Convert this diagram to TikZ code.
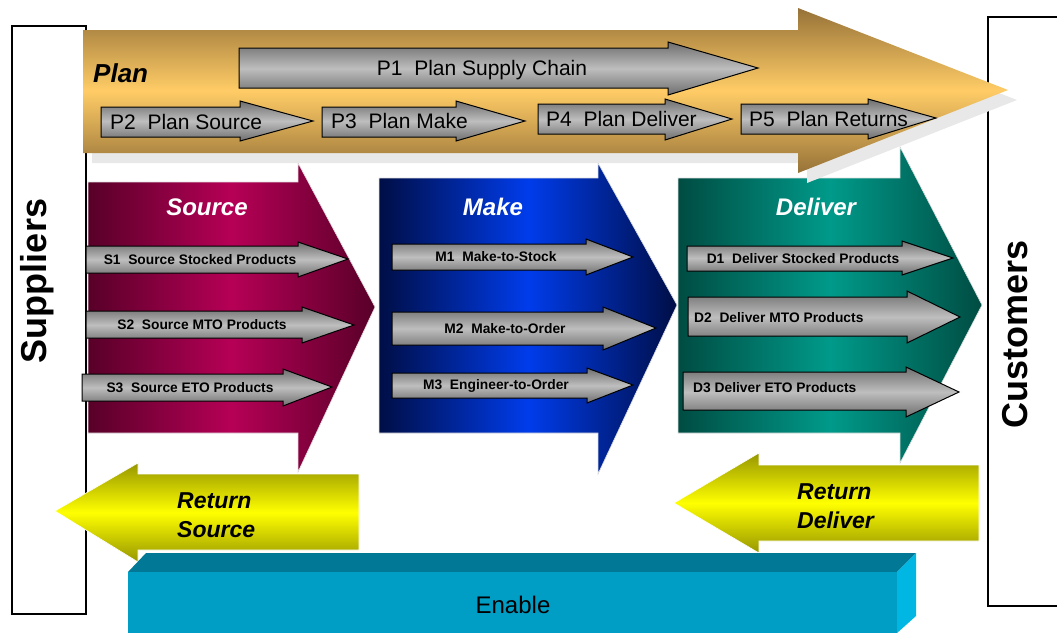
\documentclass[tikz,border=0pt]{standalone}
\usepackage{fontspec}
\setmainfont{Liberation Sans}
\definecolor{planDark}{RGB}{150,114,56}
\definecolor{planLight}{RGB}{255,204,102}
\definecolor{planShadow}{RGB}{232,232,232}
\definecolor{srcDark}{RGB}{88,0,40}
\definecolor{srcLight}{RGB}{182,0,86}
\definecolor{makeDark}{RGB}{0,14,70}
\definecolor{makeLight}{RGB}{0,60,235}
\definecolor{dlvDark}{RGB}{0,76,66}
\definecolor{dlvLight}{RGB}{0,154,138}
\definecolor{retDark}{RGB}{150,150,0}
\definecolor{retLight}{RGB}{255,255,0}
\definecolor{subDark}{RGB}{110,110,110}
\definecolor{subLight}{RGB}{190,190,190}
\definecolor{enFront}{RGB}{0,157,197}
\definecolor{enTop}{RGB}{0,120,150}
\definecolor{enSide}{RGB}{0,182,226}
\tikzstyle{partnerbox} = [draw=black,line width=1.3pt,fill=white]
\tikzstyle{partner} = [rotate=90,font=\fontsize{36}{40}\selectfont\bfseries]
\tikzstyle{planarrow} = [top color=planDark,bottom color=planDark,middle color=planLight]
\tikzstyle{srcblock} = [left color=srcDark,right color=srcDark,middle color=srcLight,draw=gray!25,line width=0.6pt]
\tikzstyle{makeblock} = [left color=makeDark,right color=makeDark,middle color=makeLight,draw=gray!25,line width=0.6pt]
\tikzstyle{dlvblock} = [left color=dlvDark,right color=dlvDark,middle color=dlvLight,draw=gray!25,line width=0.6pt]
\tikzstyle{subarrow} = [draw=black,line width=1pt,top color=subDark,bottom color=subDark,middle color=subLight]
\tikzstyle{retarrow} = [top color=retDark,bottom color=retDark,middle color=retLight,draw=white,line width=0.6pt]
\tikzstyle{title} = [font=\fontsize{24}{28}\selectfont\bfseries\itshape,text=white,inner sep=0pt]
\tikzstyle{plabel} = [font=\fontsize{21}{24}\selectfont,inner sep=0pt]
\tikzstyle{sublabel} = [font=\fontsize{13.8}{16}\selectfont\bfseries,inner sep=0pt]
\tikzstyle{retlabel} = [font=\fontsize{23}{29}\selectfont\bfseries\itshape,align=left,inner sep=0pt]

\begin{document}
\begin{tikzpicture}[x=1pt,y=-1pt]
    \useasboundingbox (0,0) rectangle (1057,633);

    % Partners
    \draw[partnerbox] (12,26) rectangle (86,614);
    \draw[line width=1.3pt] (1058,17) -- (988,17) -- (988,606) -- (1058,606);

    % Process blocks
    \path[srcblock] (88,182) -- (298,182) -- (298,163) -- (375,307) -- (298,472) -- (298,433) -- (88,433) -- cycle;
    \path[makeblock] (379,178) -- (598,178) -- (598,163) -- (677,305) -- (598,474) -- (598,433) -- (379,433) -- cycle;
    \path[dlvblock] (678,178) -- (900,178) -- (900,147) -- (982,305) -- (900,463) -- (900,433) -- (678,433) -- cycle;

    % Plan
    \fill[planShadow,shift={(9,10)}] (83,30) -- (798,30) -- (798,8) -- (1008,90) -- (798,173) -- (798,153) -- (83,153) -- cycle;
    \path[planarrow] (83,30) -- (798,30) -- (798,8) -- (1008,90) -- (798,173) -- (798,153) -- (83,153) -- cycle;

    % Plan steps
    \path[subarrow] (239,48) -- (668,48) -- (668,42) -- (758,68) -- (668,95) -- (668,88) -- (239,88) -- cycle;
    \path[subarrow] (101,107) -- (240,107) -- (240,101) -- (313,121) -- (240,141) -- (240,137) -- (101,137) -- cycle;
    \path[subarrow] (322,107) -- (456,107) -- (456,101) -- (525,121) -- (456,141) -- (456,137) -- (322,137) -- cycle;
    \path[subarrow] (538,104) -- (665,104) -- (665,99) -- (732,119) -- (665,140) -- (665,134) -- (538,134) -- cycle;
    \path[subarrow] (741,104) -- (868,104) -- (868,99) -- (936,118) -- (868,139) -- (868,134) -- (741,134) -- cycle;

    % Source steps
    \path[subarrow] (86,246) -- (298,246) -- (298,242) -- (348,259) -- (298,277) -- (298,273) -- (86,273) -- cycle;
    \path[subarrow] (86,311) -- (302,311) -- (302,307) -- (354,325) -- (302,343) -- (302,338) -- (86,338) -- cycle;
    \path[subarrow] (82,374) -- (283,374) -- (283,369) -- (332,387) -- (283,406) -- (283,401) -- (82,401) -- cycle;

    % Make steps
    \path[subarrow] (392,244) -- (586,244) -- (586,239) -- (633,257) -- (586,275) -- (586,270) -- (392,270) -- cycle;
    \path[subarrow] (392,312) -- (603,312) -- (603,307) -- (656,328) -- (603,350) -- (603,345) -- (392,345) -- cycle;
    \path[subarrow] (392,373) -- (587,373) -- (587,368) -- (633,385) -- (587,403) -- (587,398) -- (392,398) -- cycle;

    % Deliver steps
    \path[subarrow] (687,246) -- (902,246) -- (902,241) -- (953,258) -- (902,275) -- (902,271) -- (687,271) -- cycle;
    \path[subarrow] (688,297) -- (907,297) -- (907,291) -- (960,317) -- (907,343) -- (907,336) -- (688,336) -- cycle;
    \path[subarrow] (683,372) -- (906,372) -- (906,367) -- (959,392) -- (906,417) -- (906,410) -- (683,410) -- cycle;

    % Returns
    \path[retarrow] (359,474) -- (138,474) -- (138,463) -- (55,511) -- (138,562) -- (138,550) -- (359,550) -- cycle;
    \path[retarrow] (979,465) -- (759,465) -- (759,453) -- (674,503) -- (759,553) -- (759,541) -- (979,541) -- cycle;

    % Enable
    \fill[enTop] (128,572) -- (146,553) -- (916,553) -- (897,572) -- cycle;
    \fill[enSide] (897,572) -- (916,553) -- (916,616) -- (897,633) -- cycle;
    \fill[enFront] (128,572) rectangle (897,633);

    % Labels
    \node[partner] (suppliers) at (37,281) {Suppliers};
    \node[partner] (customers) at (1015,334) {Customers};
    \node[title,text=black,font=\fontsize{26}{30}\selectfont\bfseries\itshape,anchor=west] (plan) at (93,73) {Plan};
    \node[plabel] (p1) at (482,70) {P1\ \ Plan Supply Chain};
    \node[plabel,anchor=west] (p2) at (110,122) {P2\ \ Plan Source};
    \node[plabel,anchor=west] (p3) at (331,121) {P3\ \ Plan Make};
    \node[plabel,anchor=west] (p4) at (546,119) {P4\ \ Plan Deliver};
    \node[plabel,anchor=west] (p5) at (749,119) {P5\ \ Plan Returns};

    \node[title] (source) at (207,207) {Source};
    \node[title] (make) at (493,207) {Make};
    \node[title] (deliver) at (816,207) {Deliver};

    \node[sublabel] (s1) at (200,260) {S1\ \ Source Stocked Products};
    \node[sublabel] (s2) at (202,325) {S2\ \ Source MTO Products};
    \node[sublabel] (s3) at (190,388) {S3\ \ Source ETO Products};
    \node[sublabel] (m1) at (496,257) {M1\ \ Make-to-Stock};
    \node[sublabel] (m2) at (505,329) {M2\ \ Make-to-Order};
    \node[sublabel] (m3) at (496,386) {M3\ \ Engineer-to-Order};
    \node[sublabel] (d1) at (803,259) {D1\ \ Deliver Stocked Products};
    \node[sublabel,anchor=west] (d2) at (694,318) {D2\ \ Deliver MTO Products};
    \node[sublabel,anchor=west] (d3) at (693,388) {D3 Deliver ETO Products};

    \node[retlabel,anchor=west] (retsource) at (177,515) {Return\\Source};
    \node[retlabel,anchor=west] (retdeliver) at (797,506) {Return\\Deliver};
    \node[font=\fontsize{24}{28}\selectfont] (enable) at (513,605) {Enable};
\end{tikzpicture}
\end{document}
